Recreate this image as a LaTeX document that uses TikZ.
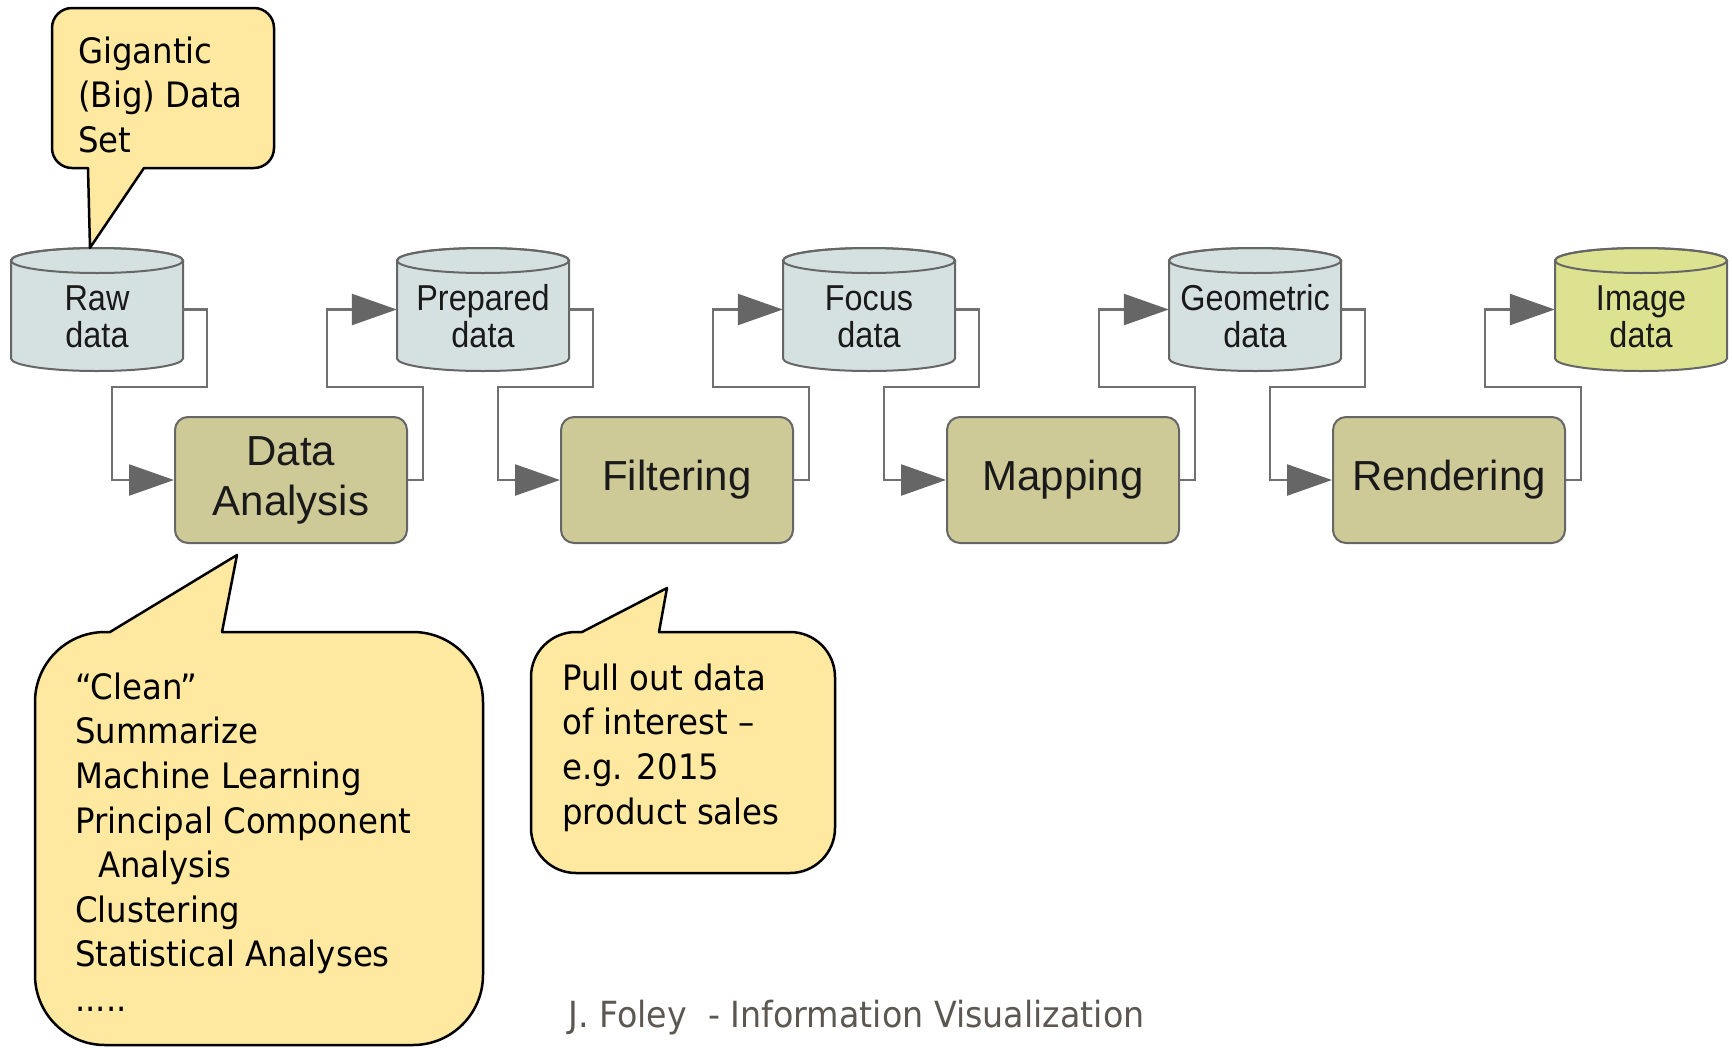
\documentclass[tikz,border=0pt]{standalone}
\usepackage{fontspec}
\usetikzlibrary{arrows.meta}

% fonts: a Tahoma-like sans for the notes, Arial-like for the pipeline
\newfontfamily\calloutfont[FakeStretch=0.925]{DejaVu Sans}
\newfontfamily\storefont[FakeStretch=0.9]{Liberation Sans}
\newfontfamily\stepfont{Liberation Sans}

\definecolor{callfill}{HTML}{FFE8A0}
\definecolor{storefill}{HTML}{D5E0E0}
\definecolor{imagefill}{HTML}{DCE290}
\definecolor{stepfill}{HTML}{CECA98}
\definecolor{edgegray}{HTML}{666666}
\definecolor{linkgray}{HTML}{707070}
\definecolor{footgray}{HTML}{5C5750}
\definecolor{inkdark}{HTML}{1A1A1A}

\tikzset{
  storeline/.style={draw=edgegray, line width=2pt},
  storebox/.style={rectangle, minimum width=172pt, minimum height=123pt, inner sep=0pt},
  storetext/.style={inner sep=0pt, align=center, text=inkdark,
    font=\storefont\fontsize{36pt}{37pt}\selectfont},
  stepbox/.style={rectangle, rounded corners=13pt, draw=edgegray, line width=2pt,
    fill=stepfill, minimum width=232pt, minimum height=126pt, inner sep=0pt,
    align=center, text=inkdark, font=\stepfont\fontsize{42pt}{50pt}\selectfont},
  flow/.style={draw=linkgray, line width=2.5pt,
    -{Triangle[length=45pt, width=31pt, color=edgegray]}},
  callout/.style={draw=black, line width=2.5pt, fill=callfill, line join=round},
  calltext/.style={inner sep=0pt, align=left, anchor=north west,
    font=\calloutfont\fontsize{35pt}{44.6pt}\selectfont},
}

% data store drawn as a cylinder: name, centre x, fill, two text lines
\newcommand\datastore[5]{%
  \begin{scope}[shift={(#2,309.5)}]
    \path[storeline, fill=#3] (-86,-49) -- (-86,49)
      arc[start angle=180, end angle=360, x radius=86pt, y radius=12.5pt]
      -- (86,-49)
      arc[start angle=0, end angle=180, x radius=86pt, y radius=12.5pt] -- cycle;
    \draw[storeline] (0,-49) ellipse[x radius=86pt, y radius=12.5pt];
    \node[storebox] (#1) at (0,0) {};
    \node[storetext] (#1-text) at (0,7) {#4\\#5};
  \end{scope}%
}

\begin{document}
\begin{tikzpicture}[x=1pt, y=-1pt]
  \useasboundingbox (0,0) rectangle (1732,1047);

  % data stores
  \datastore{raw}{97}{storefill}{Raw}{data}
  \datastore{prepared}{483}{storefill}{Prepared}{data}
  \datastore{focus}{869}{storefill}{Focus}{data}
  \datastore{geometric}{1255}{storefill}{Geometric}{data}
  \datastore{image}{1641}{imagefill}{Image}{data}

  % processing steps
  \node[stepbox] (analysis) at (291,480) {Data\\Analysis};
  \node[stepbox] (filter)   at (677,480) {Filtering};
  \node[stepbox] (mapping)  at (1063,480) {Mapping};
  \node[stepbox] (render)   at (1449,480) {Rendering};

  % store -> step -> store
  \foreach \src/\step/\dst in {raw/analysis/prepared, prepared/filter/focus,
                               focus/mapping/geometric, geometric/render/image}{
    \draw[flow] (\src.east) -- ++(24,0) -- ++(0,77.5)
      -| ([xshift=-62pt]\step.west) -- (\step.west);
    \draw[flow] (\step.east) -- ++(15,0) -- ++(0,-93)
      -| ([xshift=-70pt]\dst.west) -- (\dst.west);
  }

  % speech bubbles
  \draw[callout] (88,168) [rounded corners=20pt] -- (52,168) -- (52,8) -- (274,8)
    -- (274,168) [sharp corners] -- (144,168) -- ([xshift=-7pt]raw.north) -- cycle;
  \node[calltext] (bigdata-note) at (78,36.4) {Gigantic\\(Big) Data\\Set};

  \draw[callout] (110,632) [rounded corners=70pt] -- (35,632) -- (35,1045)
    -- (483,1045) -- (483,632) [sharp corners] -- (222,632) -- (237,555) -- cycle;
  \node[calltext] (analysis-note) at (75,672.4)
    {“Clean”\\Summarize\\Machine Learning\\Principal Component\\
     \hspace*{23pt}Analysis\\Clustering\\Statistical Analyses\\.....};

  \draw[callout] (582,632) [rounded corners=45pt] -- (531,632) -- (531,873)
    -- (835,873) -- (835,632) [sharp corners] -- (659,632) -- (667,588) -- cycle;
  \node[calltext] (filter-note) at (562,663.4)
    {Pull out data\\of interest –\\e.g. 2015\\product sales};

  % credit line
  \node[inner sep=0pt, anchor=base west, text=footgray,
        font=\calloutfont\fontsize{36pt}{40pt}\selectfont]
    (credit) at (568,1027) {J. Foley\ \ - Information Visualization};
\end{tikzpicture}
\end{document}
